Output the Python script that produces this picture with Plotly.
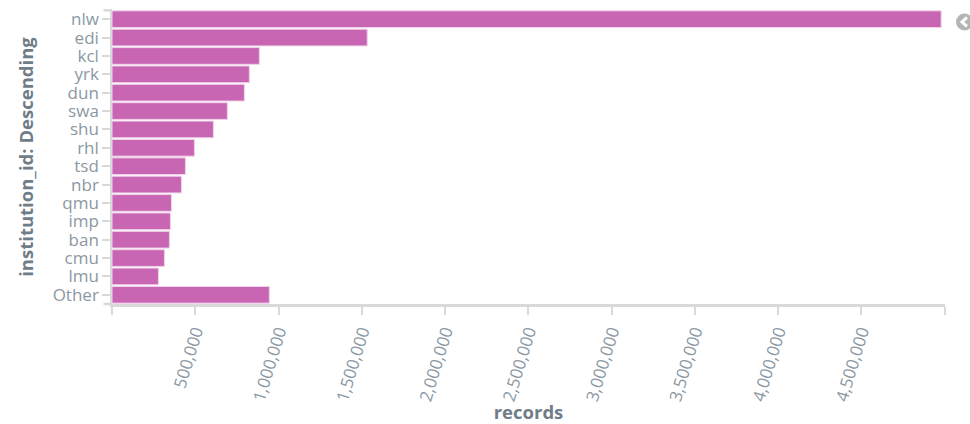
import plotly.graph_objects as go

institutions = ["nlw", "edi", "kcl", "yrk", "dun", "swa", "shu", "rhl", "tsd", "nbr", "qmu", "imp", "ban", "cmu", "lmu", "Other"]
records = [4980000, 1533000, 885000, 825000, 795000, 693000, 609000, 495000, 441000, 417000, 357000, 351000, 345000, 315000, 279000, 945000]
x_ticks = [0, 500000, 1000000, 1500000, 2000000, 2500000, 3000000, 3500000, 4000000, 4500000, 5000000]
x_labels = ["", "500,000", "1,000,000", "1,500,000", "2,000,000", "2,500,000", "3,000,000", "3,500,000", "4,000,000", "4,500,000", ""]

W, H = 970, 424
L, R, T, B = 111.5, 25, 9.5, 120
FONT = "Open Sans, sans-serif"
TICK = "#8b98a3"
TITLE = "#6f7d89"
GREY = "#d9d9d9"
PW, PH = W - L - R, H - T - B

def px(x):
    return (x - L) / PW

def py(y):
    return 1 - (y - T) / PH

fig = go.Figure(go.Bar(
    y=institutions, x=records, orientation="h",
    marker=dict(color="#c966b3", line=dict(color="#f0d3e9", width=1)),
    width=0.91,
))
fig.update_layout(
    width=W, height=H, autosize=False,
    margin=dict(l=L, r=R, t=T, b=B, pad=0, autoexpand=False),
    paper_bgcolor="white", plot_bgcolor="white",
    showlegend=False,
    font=dict(family=FONT, color=TICK),
)
fig.update_xaxes(
    automargin=False,
    range=[0, 5003000], tickmode="array", tickvals=x_ticks, ticktext=x_labels,
    tickangle=-73, tickfont=dict(size=17, color=TICK, family=FONT),
    ticks="outside", ticklen=8, tickcolor=GREY, tickwidth=1.5,
    showgrid=False, zeroline=False, showline=True, linecolor=GREY, linewidth=3,
    title=dict(text="<b>records</b>", font=dict(size=18.5, color=TITLE, family=FONT), standoff=12),
)
fig.update_yaxes(
    automargin=False,
    tickmode="array", tickvals=institutions, ticktext=institutions,
    categoryorder="array", categoryarray=institutions[::-1], range=[-0.5, 15.5],
    tickfont=dict(size=17, color=TICK, family=FONT),
    ticks="outside", ticklen=8, tickcolor=GREY, tickwidth=1.5,
    showgrid=False, zeroline=False, showline=True, linecolor=GREY, linewidth=1.5,
    title=dict(text="<b>institution_id: Descending</b>", font=dict(size=18.5, color=TITLE, family=FONT), standoff=14),
)
# end caps of the y axis domain
for yy in (9.8, 304):
    fig.add_shape(type="line", xref="paper", yref="paper", x0=px(103), x1=px(111.5), y0=py(yy), y1=py(yy),
                  line=dict(color=GREY, width=2.5))
# collapse toggle at the top right
fig.add_shape(type="circle", xref="paper", yref="paper",
              x0=px(956), x1=px(973), y0=py(30), y1=py(13),
              fillcolor="#b5b5b5", line=dict(width=0), layer="above")
fig.add_shape(type="path", xref="paper", yref="paper",
              path=f"M {px(967)} {py(17)} L {px(962)} {py(21.5)} L {px(967)} {py(26)}",
              line=dict(color="white", width=3), layer="above")
fig.write_html("out.html", config={"displayModeBar": False}, post_script="document.body.style.margin='0';")
